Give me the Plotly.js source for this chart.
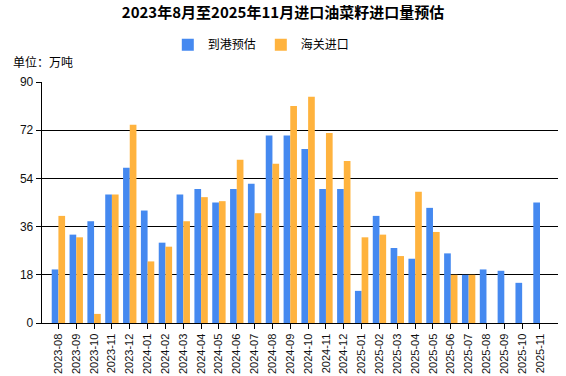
<!DOCTYPE html>
<html>
<head>
<meta charset="utf-8">
<script src="https://cdn.plot.ly/plotly-3.0.1.min.js"></script>
<style>html,body{margin:0;padding:0;background:#fff;}#chart{width:566px;height:376px;}</style>
</head>
<body>
<div id="chart"></div>
<script>
const months = ["2023-08","2023-09","2023-10","2023-11","2023-12","2024-01","2024-02","2024-03","2024-04","2024-05","2024-06","2024-07","2024-08","2024-09","2024-10","2024-11","2024-12","2025-01","2025-02","2025-03","2025-04","2025-05","2025-06","2025-07","2025-08","2025-09","2025-10","2025-11"];
const arrivalEstimate = [20,33,38,48,58,42,30,48,50,45,50,52,70,70,65,50,50,12,40,28,24,43,26,18,20,19.5,15,45];
const customsImport = [40,32,3.4,48,74,23,28.5,38,47,45.5,61,41,59.5,81,84.5,71,60.5,32,33,25,49,34,18,18,null,null,null,null];
const seriesNames = ["到港预估","海关进口"];
const titleText = "2023年8月至2025年11月进口油菜籽进口量预估";
const unitText = "单位：万吨";
const yTicks = [0,18,36,54,72,90];

const baseFont = "Liberation Sans, Arial, Noto Sans CJK SC, sans-serif";
const cjkFont = "Noto Sans CJK SC, sans-serif";

const data = [
  {type:"bar", name:seriesNames[0], x:months, y:arrivalEstimate, marker:{color:"#4589F0"}},
  {type:"bar", name:seriesNames[1], x:months, y:customsImport, marker:{color:"#FFB33E"}}
];

const layout = {
  width:566, height:376,
  margin:{l:42, r:8, t:82, b:53},
  paper_bgcolor:"#fff", plot_bgcolor:"#fff",
  barmode:"group", bargap:0.25, bargroupgap:0,
  title:{text:"<b>"+titleText+"</b>", x:0.5, xanchor:"center", y:0.965, yanchor:"middle", font:{family:cjkFont, size:15, color:"#000"}},
  showlegend:true,
  legend:{orientation:"h", x:0.425, xanchor:"center", y:1.155, yanchor:"middle", font:{family:cjkFont, size:12, color:"#000"}, itemwidth:30, traceorder:"normal"},
  xaxis:{type:"category", range:[-0.92, 28.01], showline:true, linecolor:"#000", linewidth:1.3,
    ticks:"outside", ticklen:5, tickcolor:"#000", tickangle:-90, showgrid:false,
    tickfont:{family:baseFont, size:11, color:"#111"}, fixedrange:true},
  yaxis:{range:[0,90], tickvals:yTicks, showline:true, linecolor:"#000", linewidth:1.3,
    ticks:"outside", ticklen:5, tickcolor:"#000", showgrid:true, gridcolor:"#000", gridwidth:1.3,
    zeroline:false, tickfont:{family:baseFont, size:12, color:"#111"}, fixedrange:true},
  annotations:[{text:unitText, xref:"paper", yref:"paper", x:-0.06, y:1.085, xanchor:"left", yanchor:"middle", showarrow:false, font:{family:cjkFont, size:12, color:"#000"}}]
};

Plotly.newPlot("chart", data, layout, {displayModeBar:false, staticPlot:true});
</script>
</body>
</html>
